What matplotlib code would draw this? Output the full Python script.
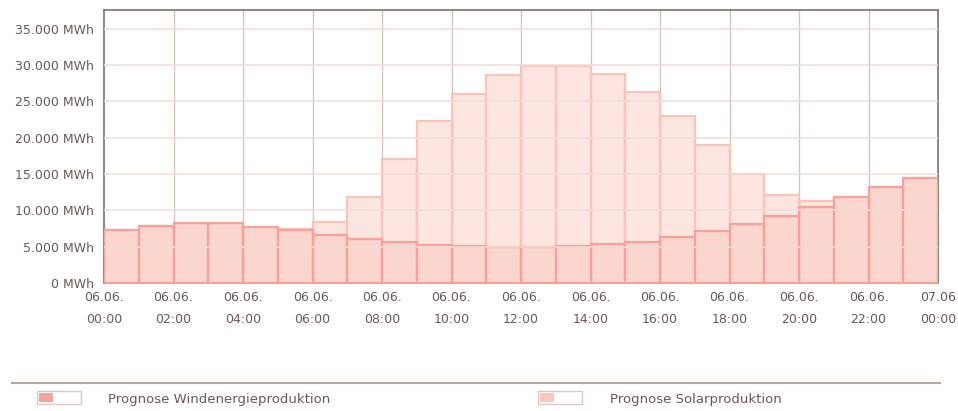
import numpy as np
import matplotlib.pyplot as plt
from matplotlib.patches import Rectangle
from matplotlib.lines import Line2D

plt.rcParams['font.family'] = ['DejaVu Sans']

hours = list(range(24))
wind = [7300, 7850, 8220, 8220, 7760, 7300, 6610, 6100, 5650, 5280, 5100, 4910,
        4910, 5100, 5320, 5650, 6290, 7160, 8080, 9180, 10510, 11890, 13180, 14460]
total = [7300, 7850, 8220, 8220, 7760, 7400, 8440, 11800, 17040, 22360, 25990, 28600,
         29930, 29950, 28790, 26350, 23000, 19010, 15010, 12120, 11340, 11890, 13180, 14460]
solar = [t - w for t, w in zip(total, wind)]

tick_hours = list(range(0, 25, 2))
tick_labels = ["06.06.\n%02d:00" % h for h in range(0, 24, 2)] + ["07.06\n00:00"]
y_ticks = list(range(0, 35001, 5000))
y_labels = ["{:,} MWh".format(v).replace(",", ".") for v in y_ticks]

text_color = "#6a5856"
wind_face = (0.965, 0.647, 0.588, 0.45)
wind_edge = "#f7a298"
solar_face = (0.99, 0.77, 0.72, 0.42)
solar_edge = "#fcc3ba"

fig = plt.figure(figsize=(9.58, 4.11), dpi=100)
W, H = 958, 411
ax = fig.add_axes([104 / W, (H - 283) / H, 834 / W, 273 / H])

ax.bar(hours, wind, width=1, align="edge", color=wind_face, edgecolor=wind_edge,
       linewidth=1.6, zorder=3)
ax.bar(hours, solar, bottom=wind, width=1, align="edge", color=solar_face,
       edgecolor=solar_edge, linewidth=1.6, zorder=2)

ax.set_xlim(0, 24)
ax.set_ylim(0, 37600)
ax.set_xticks(tick_hours)
ax.set_xticklabels(tick_labels, linespacing=1.85)
ax.set_yticks(y_ticks)
ax.set_yticklabels(y_labels)
ax.tick_params(axis="both", length=0, labelsize=9, colors=text_color)
ax.tick_params(axis="x", pad=6)
ax.tick_params(axis="y", pad=7)

for y in y_ticks[1:]:
    ax.axhline(y, color="#efdcd8", linewidth=1.1, zorder=4)
for x in tick_hours[1:-1]:
    ax.axvline(x, color="#d8c2bf", linewidth=1.0, zorder=1)

for side in ("left", "top", "right"):
    ax.spines[side].set_color("#7a625e")
    ax.spines[side].set_linewidth(1.1)
ax.spines["bottom"].set_color("#a8a0a0")
ax.spines["bottom"].set_linewidth(1.1)

# legend below
fig.add_artist(Line2D([12 / W, 940 / W], [(H - 383) / H] * 2, color="#b9a6a3", linewidth=1.5))
legend_items = [("Prognose Windenergieproduktion", "#f8a39a", 37, 108),
                ("Prognose Solarproduktion", "#fcc6bd", 538, 610)]
for label, col, sx, tx in legend_items:
    fig.add_artist(Rectangle((sx / W, (H - 404) / H), 44 / W, 13 / H, facecolor="white",
                             edgecolor="#dcc8c4", linewidth=1.0, transform=fig.transFigure))
    fig.add_artist(Rectangle(((sx + 2) / W, (H - 402) / H), 14 / W, 9 / H, facecolor=col,
                             edgecolor="none", transform=fig.transFigure))
    fig.text(tx / W, (H - 399) / H, label, fontsize=9.5, color=text_color, va="center")

fig.savefig("out.png", dpi=100)
